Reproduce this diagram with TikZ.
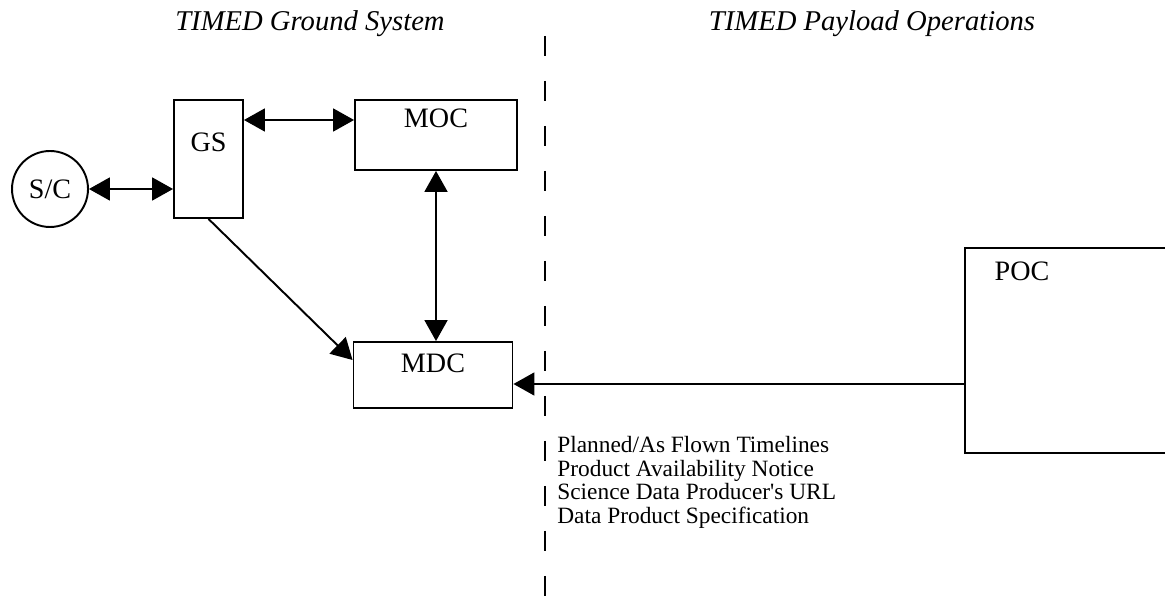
\documentclass[tikz,border=0pt]{standalone}
\usepackage{fontspec}
\setmainfont{Liberation Serif}
\usetikzlibrary{arrows.meta,positioning}

\begin{document}
\begin{tikzpicture}[x=0.02cm,y=-0.02cm,
  unit/.style={draw,line width=1.1pt,rectangle,inner sep=0pt},
  title/.style={font=\fontsize{16.3}{18}\selectfont\itshape},
  tag/.style={font=\fontsize{16}{18}\selectfont,inner sep=0pt,anchor=north},
  link/.style={line width=1.1pt,{Triangle[length=0.42cm,width=0.46cm]}-{Triangle[length=0.42cm,width=0.46cm]}},
  flow/.style={line width=1.1pt,-{Triangle[length=0.42cm,width=0.46cm]}}]
\clip (0,0) rectangle (1165,614);
\node[title] (gtitle) at (310,24) {TIMED Ground System};
\node[title] (ptitle) at (872,24) {TIMED Payload Operations};
\draw[line width=1.1pt,dash pattern=on 0.4cm off 0.5cm] (545,36) -- (545,614);
\node[draw,circle,line width=1.1pt,minimum size=1.52cm,font=\fontsize{16}{18}\selectfont] (sc) at (50,189) {S/C};
\node[unit,minimum width=1.38cm,minimum height=2.36cm,label={[tag,yshift=-0.68cm]north:GS}] (gs) at (208.5,159) {};
\node[unit,minimum width=3.24cm,minimum height=1.4cm,label={[tag,yshift=-0.2cm]north:MOC}] (moc) at (436,135) {};
\node[unit,minimum width=3.18cm,minimum height=1.32cm,label={[tag,yshift=-0.24cm]north:MDC}] (mdc) at (433,375) {};
\node[unit,minimum width=5cm,minimum height=4.1cm,label={[tag,yshift=-0.28cm,xshift=-1.36cm]north:POC}] (poc) at (1090,350.5) {};
\node[anchor=north west,align=left,inner sep=0pt,font=\fontsize{13.3}{13.4}\selectfont] (list) at (557,436)
  {Planned/As Flown Timelines\\Product Availability Notice\\Science Data Producer\textquotesingle s URL\\Data Product Specification};
\coordinate (gm) at ([yshift=0.3cm]moc.west);
\coordinate (dp) at ([yshift=-0.18cm]mdc.east);
\draw[link] (sc.east) -- (sc.east -| gs.west);
\draw[link] (gm -| gs.east) -- (gm);
\draw[link] (moc.south) -- (moc.south |- mdc.north);
\draw[flow] (gs.south) -- ([yshift=0.3cm]mdc.west);
\draw[flow] (dp -| poc.west) -- (dp);
\end{tikzpicture}
\end{document}
